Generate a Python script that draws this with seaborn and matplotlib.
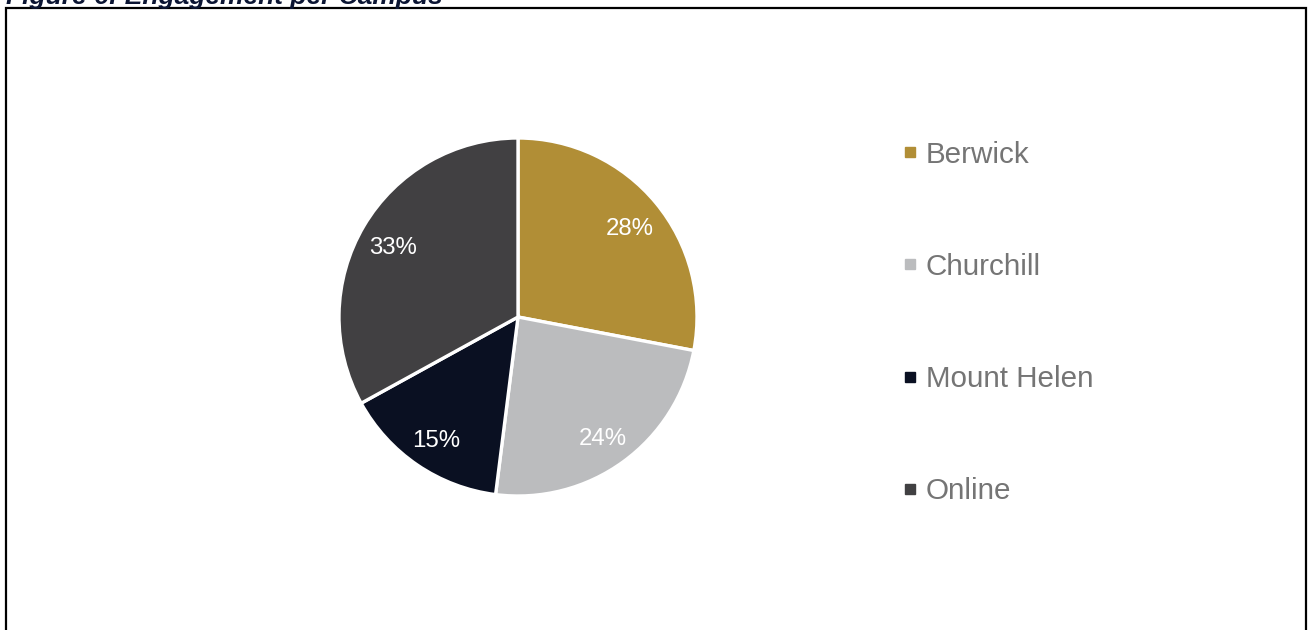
import matplotlib
matplotlib.use("Agg")
import matplotlib.pyplot as plt
from matplotlib.lines import Line2D
from matplotlib.patches import Rectangle
import seaborn as sns

# Campus engagement shares (percent)
campuses = ["Berwick", "Churchill", "Mount Helen", "Online"]
shares = [28, 24, 15, 33]
campus_colors = ["#B18E36", "#BBBCBE", "#0A1022", "#414042"]
title_text = "Figure 6: Engagement per Campus"

sns.set_theme(style="white")
plt.rcParams["font.family"] = ["Liberation Sans", "DejaVu Sans"]

W, H = 1308, 630
fig = plt.figure(figsize=(W / 100, H / 100), dpi=100)
fig.patch.set_facecolor("white")

# Pie axes: centre (518, 317) px, radius 179 px
cx, cy, r = 518, 317, 179
ax = fig.add_axes([(cx - r) / W, (H - cy - r) / H, 2 * r / W, 2 * r / H])
palette = sns.color_palette(campus_colors)
wedges, texts, autotexts = ax.pie(
    shares,
    colors=palette,
    startangle=90,
    counterclock=False,
    autopct=lambda p: f"{p:.0f}%",
    pctdistance=0.81,
    wedgeprops=dict(edgecolor="white", linewidth=2.4),
    textprops=dict(color="white", fontsize=17.3),
)
# nudge percentage labels slightly below their radial anchor
for t in autotexts:
    x, y = t.get_position()
    t.set_position((x, y - 0.025))
ax.set_xlim(-1, 1)
ax.set_ylim(-1, 1)
ax.set_aspect("equal")
ax.axis("off")

# Legend with small square keys
handles = [
    Line2D([0], [0], marker="s", linestyle="none", markersize=7,
           markerfacecolor=c, markeredgecolor=c)
    for c in palette
]
leg = fig.legend(
    handles, campuses,
    loc="center left",
    bbox_to_anchor=(901 / W, 1 - 323 / H),
    frameon=False,
    fontsize=21.3,
    labelcolor="#757575",
    handlelength=0.58,
    handletextpad=0.25,
    labelspacing=2.85,
    borderpad=0,
    borderaxespad=0,
)

# Chart frame
fig.patches.append(Rectangle((6 / W, -0.05), 1300 / W, 1.05 - 7.5 / H,
                             transform=fig.transFigure, fill=False,
                             edgecolor="black", linewidth=1.6))

# Caption above the frame
fig.text(6 / W, 1 - 4 / H, title_text, fontsize=19, fontweight="bold",
         fontstyle="italic", color="#0B1533", va="baseline", ha="left")

fig.savefig("out.png", dpi=100, facecolor="white")
